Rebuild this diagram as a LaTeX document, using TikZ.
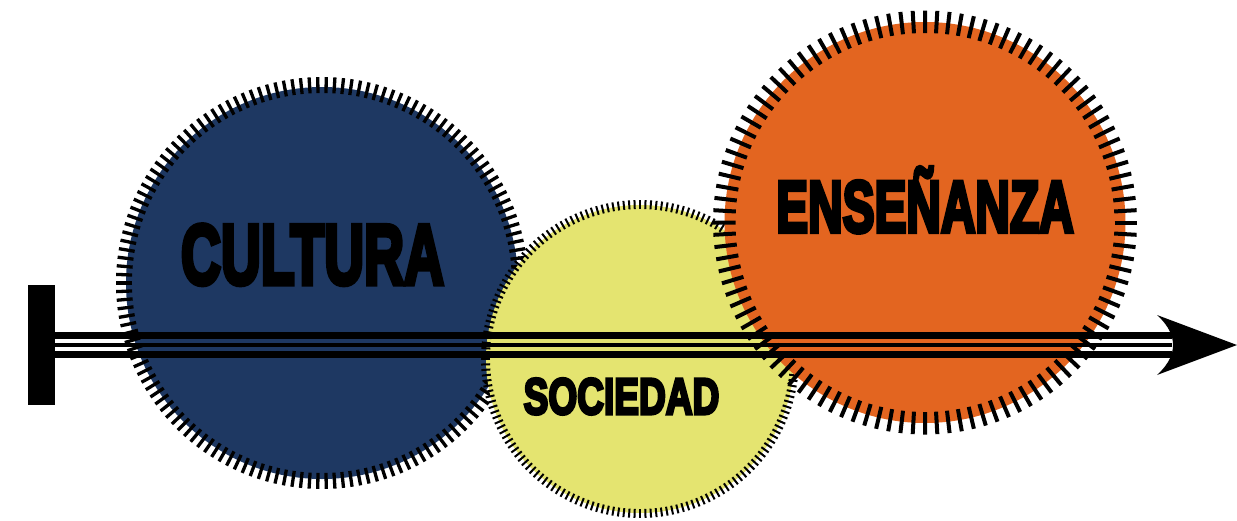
\documentclass[tikz,border=0pt]{standalone}
\usepackage{fontspec}
\newfontfamily\impactish{Liberation Sans}[BoldFeatures={FakeBold=6}]
\definecolor{cblue}{RGB}{30,56,98}
\definecolor{cyellow}{RGB}{228,228,112}
\definecolor{corange}{RGB}{227,101,32}
\tikzset{
  disc/.style={circle, inner sep=0pt, draw=none},
  label/.style={anchor=base, inner sep=0pt, text=black},
  tick/.style={line width=#1, black},
}
\begin{document}
\begin{tikzpicture}[x=1pt,y=-1pt]
\useasboundingbox (0,0) rectangle (1237,520);
% Cultura
\node[disc, fill=cblue, minimum size=392pt] (cult) at (322,283) {};
\foreach \i in {0,...,149} \draw[tick=3.3pt] (cult.center) ++(\i*2.4:190) -- ++(\i*2.4:16);
% Sociedad
\node[disc, fill=cyellow, minimum size=308pt] (soc) at (640,359) {};
\foreach \i in {0,...,179} \draw[tick=2pt] (soc.center) ++(\i*2:150) -- ++(\i*2:9);
% Ensenanza
\node[disc, fill=corange, minimum size=401pt] (ens) at (925,222.5) {};
\foreach \i in {0,...,107} \draw[tick=4pt] (ens.center) ++(\i*3.3333:189.5) -- ++(\i*3.3333:22.5);
% labels
\node[label] (tcult) at (312.5,284) {\scalebox{0.65}[1]{\fontsize{85}{85}\selectfont\impactish\bfseries CULTURA}};
\node[label] (tsoc) at (621.5,414) {\scalebox{0.727}[1]{\fontsize{51}{51}\selectfont\impactish\bfseries SOCIEDAD}};
\node[label] (tens) at (925,232) {\scalebox{0.655}[1]{\fontsize{73}{73}\selectfont\impactish\bfseries ENSEÑANZA}};
% timeline
\node[fill=black, inner sep=0pt, minimum width=26.5pt, minimum height=120pt] (bar) at (41.25,345) {};
\coordinate (hb) at (1172,345);
\coordinate (head) at (1237,345);
\draw[line width=7.3pt] ([yshift=9.6pt]bar.east) -- ([yshift=9.6pt]hb);
\draw[line width=4pt] ([yshift=-0.3pt]bar.east) -- ([yshift=-0.3pt]hb);
\draw[line width=7pt] ([yshift=-9.5pt]bar.east) -- ([yshift=-9.5pt]hb);
\fill (head) -- (1157,315) .. controls (1170,327) and (1173,337) .. (1173,345)
  .. controls (1173,353) and (1170,363) .. (1157,375) -- cycle;
\end{tikzpicture}
\end{document}
